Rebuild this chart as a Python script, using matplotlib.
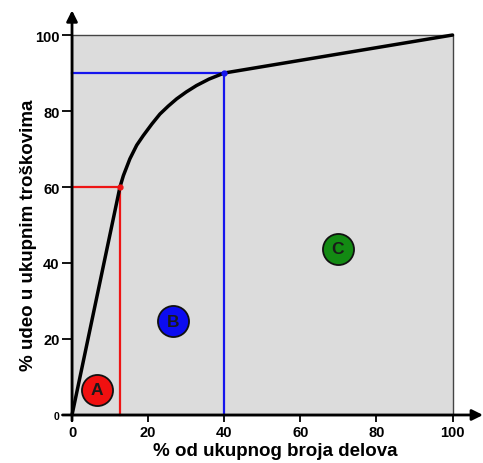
import matplotlib
matplotlib.use("Agg")
import matplotlib.pyplot as plt
from matplotlib.patches import Rectangle

plt.rcParams['font.family'] = ['Liberation Sans', 'DejaVu Sans']
plt.rcParams['font.weight'] = 'bold'

# Data
curve_x = [0, 12.6, 13.5, 15.2, 17.0, 18.7, 21.0, 23.1, 25.3, 27.5, 30.0, 32.7, 36.0, 40.0, 100]
curve_y = [0, 60, 63.0, 67.4, 71.0, 73.5, 76.6, 79.2, 81.3, 83.2, 85.0, 86.7, 88.4, 90.0, 100]
a_limit = (12.6, 60)
b_limit = (40, 90)
labels = ['A', 'B', 'C']
label_x = [6.6, 26.5, 69.8]
label_y = [6.6, 24.7, 43.7]
label_colors = ['#f01010', '#0c0cf0', '#138a13']
xticks = [0, 20, 40, 60, 80, 100]
yticks = [0, 20, 40, 60, 80, 100]

fig = plt.figure(figsize=(4.83, 4.64), dpi=100)
ax = fig.add_axes([0.1294, 0.0912, 0.8706, 0.8844])
ax.set_xlim(-2.5, 108)
ax.set_ylim(-1.5, 106.5)

ax.add_patch(Rectangle((0, 0), 100, 100, facecolor='#dcdcdc', edgecolor='#444444', lw=1, zorder=0))

# threshold lines
ax.plot([0, a_limit[0], a_limit[0]], [a_limit[1], a_limit[1], 0], color='#ee1515', lw=1.6, zorder=2)
ax.plot([0, b_limit[0], b_limit[0]], [b_limit[1], b_limit[1], 0], color='#1515ee', lw=1.6, zorder=2)
ax.plot([a_limit[0]], [a_limit[1]], 'o', color='#ee1515', ms=3.5, zorder=4)
ax.plot([b_limit[0]], [b_limit[1]], 'o', color='#1515ee', ms=3.5, zorder=4)

ax.plot(curve_x, curve_y, color='black', lw=2.5, zorder=3, solid_capstyle='round', solid_joinstyle='round')

for lab, x, y, c in zip(labels, label_x, label_y, label_colors):
    ax.scatter([x], [y], s=500, color=c, edgecolor='#111111', linewidth=1.3, zorder=5)
    ax.text(x, y, lab, ha='center', va='center', fontsize=12.5, fontweight='bold', color='#1a1a1a', zorder=6)

for s in ['top', 'right', 'left', 'bottom']:
    ax.spines[s].set_visible(False)
ax.spines['left'].set_position(('data', 0))
ax.spines['bottom'].set_position(('data', 0))

ax.annotate('', xy=(108, 0), xytext=(-2.5, 0),
            arrowprops=dict(arrowstyle='-|>', lw=2, color='black', mutation_scale=16, shrinkA=0, shrinkB=0),
            annotation_clip=False, zorder=7)
ax.annotate('', xy=(0, 106.5), xytext=(0, -1.5),
            arrowprops=dict(arrowstyle='-|>', lw=2, color='black', mutation_scale=16, shrinkA=0, shrinkB=0),
            annotation_clip=False, zorder=7)

ax.set_xticks(xticks)
ax.set_yticks(yticks)
ax.set_xticklabels([str(t) for t in xticks], fontsize=10.5, fontweight='bold')
ax.set_yticklabels([str(t) for t in yticks], fontsize=10.5, fontweight='bold')
ax.get_yticklabels()[0].set_fontsize(7.5)
ax.tick_params(axis='x', length=5, width=1.3, direction='out', pad=2)
ax.tick_params(axis='y', length=7, width=1.3, direction='out', pad=2)

ax.set_xlabel('% od ukupnog broja delova', fontsize=13.5, fontweight='bold')
ax.set_ylabel('% udeo u ukupnim troškovima', fontsize=13.5, fontweight='bold')
ax.xaxis.set_label_coords(0.5065, -0.052)
ax.yaxis.set_label_coords(-0.0606, 0.455)

fig.savefig('out.png', dpi=100)
